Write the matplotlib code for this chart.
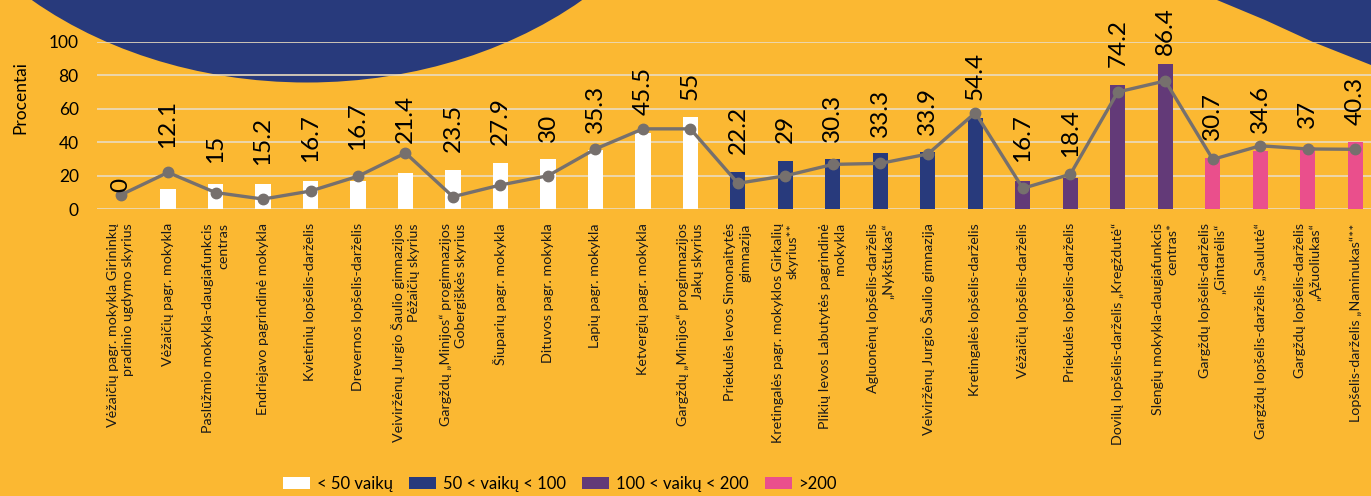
import matplotlib
matplotlib.use("Agg")
import matplotlib.pyplot as plt
from matplotlib.patches import Ellipse, Polygon, Patch

plt.rcParams['font.family'] = ['Lato', 'DejaVu Sans']

categories = [
    "Vėžaičių pagr. mokykla Girininkų\npradinio ugdymo skyrius",
    "Vėžaičių pagr. mokykla",
    "Paslūžmio mokykla-daugiafunkcis\ncentras",
    "Endriejavo pagrindinė mokykla",
    "Kvietinių lopšelis-darželis",
    "Drevernos lopšelis-darželis",
    "Veiviržėnų Jurgio Šaulio gimnazijos\nPėžaičių skyrius",
    "Gargždų „Minijos“ progimnazijos\nGobergiškės skyrius",
    "Šiuparių pagr. mokykla",
    "Dituvos pagr. mokykla",
    "Lapių pagr. mokykla",
    "Ketvergių pagr. mokykla",
    "Gargždų „Minijos“ progimnazijos\nJakų skyrius",
    "Priekulės Ievos Simonaitytės\ngimnazija",
    "Kretingalės pagr. mokyklos Girkalių\nskyrius**",
    "Plikių Ievos Labutytės pagrindinė\nmokykla",
    "Agluonėnų lopšelis-darželis\n„Nykštukas“",
    "Veiviržėnų Jurgio Šaulio gimnazija",
    "Kretingalės lopšelis-darželis",
    "Vėžaičių lopšelis-darželis",
    "Priekulės lopšelis-darželis",
    "Dovilų lopšelis-darželis „Kregždutė“",
    "Slengių mokykla-daugiafunkcis\ncentras*",
    "Gargždų lopšelis-darželis\n„Gintarėlis“",
    "Gargždų lopšelis-darželis „Saulutė“",
    "Gargždų lopšelis-darželis\n„Ąžuoliukas“",
    "Lopšelis-darželis „Naminukas“**",
]
bar_values = [0, 12.1, 15, 15.2, 16.7, 16.7, 21.4, 23.5, 27.9, 30, 35.3, 45.5, 55,
              22.2, 29, 30.3, 33.3, 33.9, 54.4,
              16.7, 18.4, 74.2, 86.4,
              30.7, 34.6, 37, 40.3]
line_values = [8.5, 22, 10, 6.1, 10.9, 19.7, 33.6, 7.5, 14.5, 20, 36, 48, 48,
               15.5, 20, 26.8, 27.4, 33, 57.6,
               12.5, 20.9, 70, 76.6,
               29.8, 37.9, 36, 35.8]
group = [0]*13 + [1]*6 + [2]*4 + [3]*4
group_labels = ["< 50 vaikų", "50 < vaikų < 100", "100 < vaikų < 200", ">200"]
yticks = [0, 20, 40, 60, 80, 100]

# styles
BG = "#FBB832"
NAVY = "#283A7C"
group_colors = ["#FFFFFF", NAVY, "#633A78", "#EA4F8C"]
LINE = "#76706D"
# label offsets above the bar (data units); a few labels are raised further
label_offset = [10.3, 24.5, 12.6, 11.2, 11.5, 18.7, 18, 10.7, 10.5, 10.1, 10.2, 10.6, 10.2,
                10.8, 10.4, 9.8, 9.8, 10.4, 10.8, 11.5, 12.7, 10.7, 5.6, 10.7, 10.9, 11.5, 10]

W, H = 1371, 496
fig = plt.figure(figsize=(W/100, H/100), dpi=100, facecolor=BG)

# background decoration
bg = fig.add_axes([0, 0, 1, 1], zorder=0)
bg.set_xlim(0, W); bg.set_ylim(H, 0); bg.axis('off')
bg.set_facecolor(BG)
bg.add_patch(Ellipse((307, -236), 820, 637, facecolor=NAVY, edgecolor='none'))
bg.add_patch(Polygon([(1217, 0), (1265, 20), (1313, 42), (1371, 65), (1380, 70), (1380, 0)],
                     closed=True, facecolor=NAVY, edgecolor='none'))

# main axes: x from 96.8 px to 1379 px, y 0 at 209.3px, 100 at 41.7px
left = 96.8 / W
width = (1379 - 96.8) / W
bottom = (H - 209.3) / H
height = (209.3 - 41.7) / H
ax = fig.add_axes([left, bottom, width, height], zorder=1)
ax.set_facecolor('none')

x = list(range(len(categories)))
colors = [group_colors[g] for g in group]
ax.bar(x, bar_values, width=0.32, color=colors, zorder=2)
ax.plot(x, line_values, color=LINE, lw=2.4, marker='o', ms=7.5, zorder=3)

for xi, v, off in zip(x, bar_values, label_offset):
    ax.text(xi, v + off, f"{v:g}", rotation=90, ha='center', va='bottom',
            fontsize=17.5, color='black', zorder=4, clip_on=False)

ax.set_xlim(-0.5, len(categories) - 0.5)
ax.set_ylim(0, 100)
ax.set_yticks(yticks)
ax.set_yticklabels([str(t) for t in yticks], fontsize=12.5)
ax.yaxis.grid(True, color='#EADBC0', lw=1.2, zorder=1)
ax.set_axisbelow(True)
ax.tick_params(axis='y', length=0, pad=13)
ax.tick_params(axis='x', length=0, pad=10)
ax.set_xticks(x)
ax.set_xticklabels(categories, rotation=90, ha='center', va='top', fontsize=10.3,
                   multialignment='right', linespacing=1.3, color='#1a1a1a')
for s in ax.spines.values():
    s.set_visible(False)

fig.text(20.5 / W, 1 - 98 / H, "Procentai", rotation=90, ha='center', va='center', fontsize=12.5)

handles = [Patch(facecolor=c, edgecolor='none') for c in group_colors]
fig.legend(handles, group_labels, loc='center', bbox_to_anchor=(560 / W, 1 - 484 / H),
           ncol=4, frameon=False,
           prop={'family': ['Liberation Sans Narrow', 'Lato'], 'size': 12},
           handlelength=1.6, handleheight=0.75,
           handletextpad=0.4, columnspacing=1.0)

fig.savefig("out.png", dpi=100, facecolor=BG)
